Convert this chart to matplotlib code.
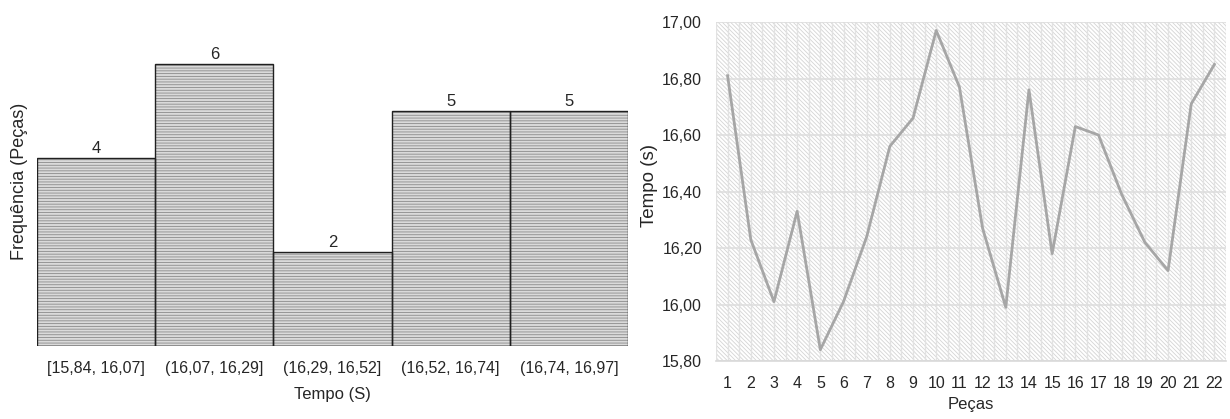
import matplotlib
matplotlib.use("Agg")
import matplotlib.pyplot as plt
from matplotlib.patches import Rectangle
from matplotlib.ticker import FuncFormatter, MultipleLocator

plt.rcParams['font.family'] = ['Liberation Sans', 'DejaVu Sans']
plt.rcParams['hatch.linewidth'] = 0.6

# Histogram of cycle times
classes = ["[15,84, 16,07]", "(16,07, 16,29]", "(16,29, 16,52]", "(16,52, 16,74]", "(16,74, 16,97]"]
frequencies = [4, 6, 2, 5, 5]

# Time per piece
pieces = list(range(1, 23))
times = [16.81, 16.23, 16.01, 16.33, 15.84, 16.01, 16.24, 16.56, 16.66, 16.97, 16.77,
         16.27, 15.99, 16.76, 16.18, 16.63, 16.60, 16.39, 16.22, 16.12, 16.71, 16.85]

W, H = 1230, 419
fig = plt.figure(figsize=(W / 100, H / 100), dpi=100)

def px_axes(left, top, right, bottom):
    return fig.add_axes([left / W, 1 - bottom / H, (right - left) / W, (bottom - top) / H])

TXT = '#262626'

# ---- Histogram ----
ax1 = px_axes(37, 17, 628, 346)
xs = list(range(len(classes)))
ax1.bar(xs, frequencies, width=1.0, align='center', color='#dadada',
        edgecolor='#8a8a8a', linewidth=0, hatch='------', zorder=2)
ax1.bar(xs, frequencies, width=1.0, align='center', fill=False,
        edgecolor='#202020', linewidth=1.0, zorder=3)
for x, f in zip(xs, frequencies):
    ax1.text(x, f + 0.04, str(f), ha='center', va='bottom', fontsize=12, color=TXT)
ax1.set_xlim(-0.5, len(classes) - 0.5)
ax1.set_ylim(0, 7)
ax1.set_xticks(xs)
ax1.set_xticklabels(classes, fontsize=11.5, color=TXT)
ax1.set_yticks([])
ax1.tick_params(axis='x', length=0, pad=11)
for s in ax1.spines.values():
    s.set_visible(False)
ax1.set_xlabel("Tempo (S)", fontsize=12, color=TXT, labelpad=8)
ax1.set_ylabel("Frequência (Peças)", fontsize=13, color=TXT)
ax1.yaxis.set_label_coords(-9 / 591, (346 - 181) / 329)

# ---- Line chart ----
ax2 = px_axes(716, 22, 1226, 361)
ax2.patch.set_alpha(0)
bg = Rectangle((0, 0), 1, 1, transform=ax2.transAxes, facecolor='white',
               edgecolor='#d4d4d4', linewidth=0, hatch='\\\\\\\\\\\\\\\\', zorder=0)
ax2.add_patch(bg)
ax2.set_xlim(0.5, 22.5)
ax2.set_ylim(15.8, 17.0)
ax2.set_yticks([15.8, 16.0, 16.2, 16.4, 16.6, 16.8, 17.0])
ax2.yaxis.set_major_formatter(FuncFormatter(lambda v, p: f"{v:.2f}".replace('.', ',')))
ax2.set_xticks(pieces)
ax2.xaxis.set_minor_locator(MultipleLocator(0.5))
ax2.grid(True, axis='y', which='major', color='#dedede', linewidth=1.2, zorder=1)
ax2.grid(True, axis='x', which='both', color='#e2e2e2', linewidth=1.0, zorder=1)
ax2.plot(pieces, times, color='#a6a6a6', linewidth=2.0, zorder=3)
ax2.tick_params(axis='both', which='both', length=0, labelsize=11.5, colors=TXT)
ax2.tick_params(axis='x', pad=11)
ax2.tick_params(axis='y', pad=10)
for name, s in ax2.spines.items():
    if name == 'bottom':
        s.set_color('#d9d9d9')
        s.set_linewidth(1.2)
    else:
        s.set_visible(False)
ax2.set_xlabel("Peças", fontsize=12, color=TXT, labelpad=4)
ax2.set_ylabel("Tempo (s)", fontsize=13.5, color=TXT)
ax2.yaxis.set_label_coords(-58 / 510, (361 - 185) / 339)

fig.savefig("out.png", dpi=100)
